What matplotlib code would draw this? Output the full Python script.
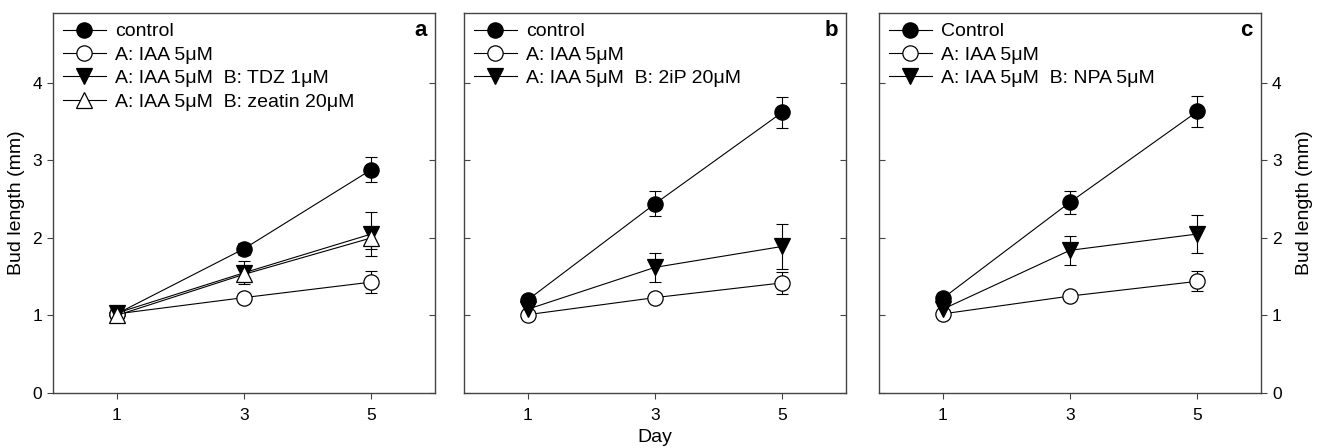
import numpy as np
import matplotlib
matplotlib.use("Agg")
from matplotlib import pyplot as plt

plt.rcParams['font.family'] = ['Liberation Sans', 'DejaVu Sans']

days = [1, 3, 5]

# panel a
a_control = [1.02, 1.86, 2.88]
a_control_err = [0.03, 0.08, 0.16]
a_iaa = [1.02, 1.23, 1.43]
a_iaa_err = [0.02, 0.06, 0.14]
a_tdz = [1.03, 1.55, 2.05]
a_tdz_err = [0.03, 0.15, 0.28]
a_zeatin = [1.00, 1.53, 2.00]
a_zeatin_err = [0.02, 0.06, 0.14]

# panel b
b_control = [1.20, 2.44, 3.62]
b_control_err = [0.04, 0.16, 0.20]
b_iaa = [1.01, 1.23, 1.42]
b_iaa_err = [0.02, 0.05, 0.14]
b_2ip = [1.08, 1.62, 1.89]
b_2ip_err = [0.04, 0.19, 0.29]

# panel c
c_control = [1.22, 2.46, 3.63]
c_control_err = [0.04, 0.15, 0.20]
c_iaa = [1.02, 1.25, 1.44]
c_iaa_err = [0.02, 0.04, 0.13]
c_npa = [1.08, 1.84, 2.05]
c_npa_err = [0.04, 0.19, 0.24]

styles = {
    'filled_circle': dict(marker='o', mfc='black', mec='black', ms=11),
    'open_circle': dict(marker='o', mfc='white', mec='black', ms=11),
    'tri_down': dict(marker='v', mfc='black', mec='black', ms=11),
    'tri_up': dict(marker='^', mfc='white', mec='black', ms=11),
}

panels = [
    ('a', [(a_control, a_control_err, 'control', 'filled_circle'),
           (a_iaa, a_iaa_err, 'A: IAA 5μM', 'open_circle'),
           (a_tdz, a_tdz_err, 'A: IAA 5μM  B: TDZ 1μM', 'tri_down'),
           (a_zeatin, a_zeatin_err, 'A: IAA 5μM  B: zeatin 20μM', 'tri_up')]),
    ('b', [(b_control, b_control_err, 'control', 'filled_circle'),
           (b_iaa, b_iaa_err, 'A: IAA 5μM', 'open_circle'),
           (b_2ip, b_2ip_err, 'A: IAA 5μM  B: 2iP 20μM', 'tri_down')]),
    ('c', [(c_control, c_control_err, 'Control', 'filled_circle'),
           (c_iaa, c_iaa_err, 'A: IAA 5μM', 'open_circle'),
           (c_npa, c_npa_err, 'A: IAA 5μM  B: NPA 5μM', 'tri_down')]),
]

W, H = 1321, 448
fig = plt.figure(figsize=(W / 100, H / 100), dpi=100)
lefts = [53, 464, 879]
aw, ah = 382, 380
bottom = 448 - 393
spine_col = '#444444'

for i, (letter, series) in enumerate(panels):
    ax = fig.add_axes([lefts[i] / W, bottom / H, aw / W, ah / H])
    for vals, err, label, st in series:
        ax.errorbar(days, vals, yerr=err, fmt='none', ecolor='black',
                    elinewidth=0.8, capsize=4, capthick=0.8, zorder=2)
        ax.plot(days, vals, color='black', lw=0.8, mew=0.9, label=label,
                zorder=3, **styles[st])
    ax.set_xlim(0, 6)
    ax.set_ylim(0, 4.9)
    ax.set_xticks(days)
    ax.set_yticks([0, 1, 2, 3, 4])
    for s in ax.spines.values():
        s.set_linewidth(1.0)
        s.set_color(spine_col)
    ax.tick_params(axis='both', color=spine_col)
    ax.tick_params(axis='x', direction='out', length=4, width=0.8,
                   labelsize=12.5, pad=7)
    if i == 0:
        ax.tick_params(axis='y', left=True, right=True, labelleft=True,
                       labelright=False, direction='out', length=4,
                       width=0.8, labelsize=12.5, pad=4)
        # right side ticks point inward
        for t in ax.yaxis.get_major_ticks():
            t.tick2line.set_marker(matplotlib.lines.TICKLEFT)
        ax.set_ylabel('Bud length (mm)', fontsize=14, labelpad=5)
    elif i == 1:
        ax.tick_params(axis='y', left=True, right=True, labelleft=False,
                       direction='in', length=4, width=0.8)
        ax.set_xlabel('Day', fontsize=14, labelpad=4)
    else:
        ax.tick_params(axis='y', left=True, right=True, labelleft=False,
                       labelright=True, direction='out', length=4,
                       width=0.8, labelsize=12.5, pad=4)
        for t in ax.yaxis.get_major_ticks():
            t.tick1line.set_marker(matplotlib.lines.TICKRIGHT)
        ax.yaxis.set_label_position('right')
        ax.set_ylabel('Bud length (mm)', fontsize=14, labelpad=10)
    ax.text(0.978, 0.955, letter, transform=ax.transAxes, ha='right',
            va='center', fontsize=16, fontweight='bold')
    ax.legend(loc='upper left', frameon=False, fontsize=14, numpoints=1,
              handlelength=2.2, handletextpad=0.5, labelspacing=0.3,
              borderaxespad=0.2, borderpad=0.3)

fig.savefig('out.png', dpi=100)
